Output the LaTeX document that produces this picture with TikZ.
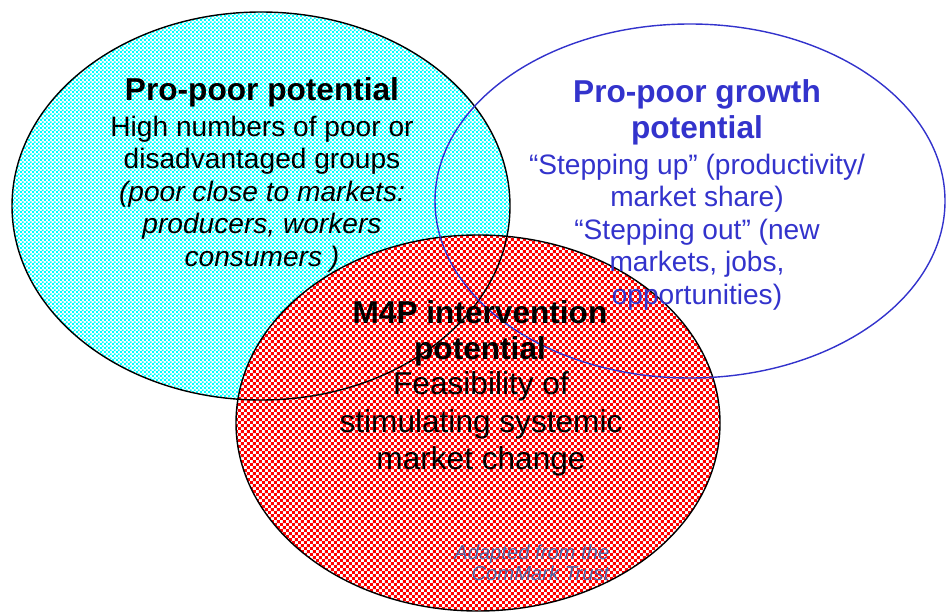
\documentclass[tikz,border=0pt]{standalone}
\usepackage{fontspec}
\setmainfont{Liberation Sans}
\usetikzlibrary{patterns}
\definecolor{blue1}{RGB}{51, 51, 204}
\definecolor{cyan1}{RGB}{0, 255, 255}
\definecolor{red1}{RGB}{255, 0, 0}
\definecolor{credit1}{RGB}{80, 100, 165}

\pgfdeclarepatternformonly{finecheck}{\pgfpointorigin}{\pgfpoint{2.4pt}{2.4pt}}{\pgfpoint{2.4pt}{2.4pt}}
{\pgfpathrectangle{\pgfpointorigin}{\pgfpoint{1.2pt}{1.2pt}}
 \pgfpathrectangle{\pgfpoint{1.2pt}{1.2pt}}{\pgfpoint{1.2pt}{1.2pt}}
 \pgfusepath{fill}}
\pgfdeclarepatternformonly{bigcheck}{\pgfpointorigin}{\pgfpoint{3.4pt}{3.4pt}}{\pgfpoint{3.4pt}{3.4pt}}
{\pgfpathrectangle{\pgfpointorigin}{\pgfpoint{1.7pt}{1.7pt}}
 \pgfpathrectangle{\pgfpoint{1.7pt}{1.7pt}}{\pgfpoint{1.7pt}{1.7pt}}
 \pgfusepath{fill}}

\tikzset{
  head/.style={align=center, inner sep=0pt, font=\fontsize{18}{20.5}\selectfont\bfseries},
  body/.style={align=center, inner sep=0pt, font=\fontsize{16}{18.5}\selectfont},
}

\begin{document}
\begin{tikzpicture}[x=0.02cm, y=-0.02cm, line width=0.8pt]
  \useasboundingbox (0,0) rectangle (946,615);
  % fills first
  \fill[white] (261,206) ellipse [x radius=249, y radius=194];
  \fill[pattern=finecheck, pattern color=cyan1] (261,206) ellipse [x radius=249, y radius=194];
  \fill[white] (478,423) ellipse [x radius=242, y radius=188];
  \fill[pattern=bigcheck, pattern color=red1] (478,423) ellipse [x radius=242, y radius=188];
  % outlines on top
  \draw (261,206) ellipse [x radius=249, y radius=194];
  \draw (478,423) ellipse [x radius=242, y radius=188];
  \draw[blue1] (690,201) ellipse [x radius=255, y radius=177];

  \node[head] (poorhead) at (262,92) {Pro-poor potential};
  \node[body] (poorbody) at (262,194) {High numbers of poor or\\disadvantaged groups\\
    \itshape (poor close to markets:\\\itshape producers, workers\\\itshape consumers )};

  \node[head, text=blue1] (growhead) at (697,112) {Pro-poor growth\\potential};
  \node[body, text=blue1] (growbody) at (697,232) {“Stepping up” (productivity/\\market share)\\
    “Stepping out” (new\\markets, jobs,\\opportunities)};

  \node[head] (m4phead) at (480,333) {M4P intervention\\potential};
  \node[body, font=\fontsize{18}{21.5}\selectfont] (m4pbody) at (481,424) {Feasibility of\\stimulating systemic\\market change};

  \node[align=right, inner sep=0pt, text=credit1, font=\fontsize{11.5}{12}\selectfont\itshape,
    anchor=east] (credit) at (610,563) {Adapted from the\\ComMark Trust};
\end{tikzpicture}
\end{document}
